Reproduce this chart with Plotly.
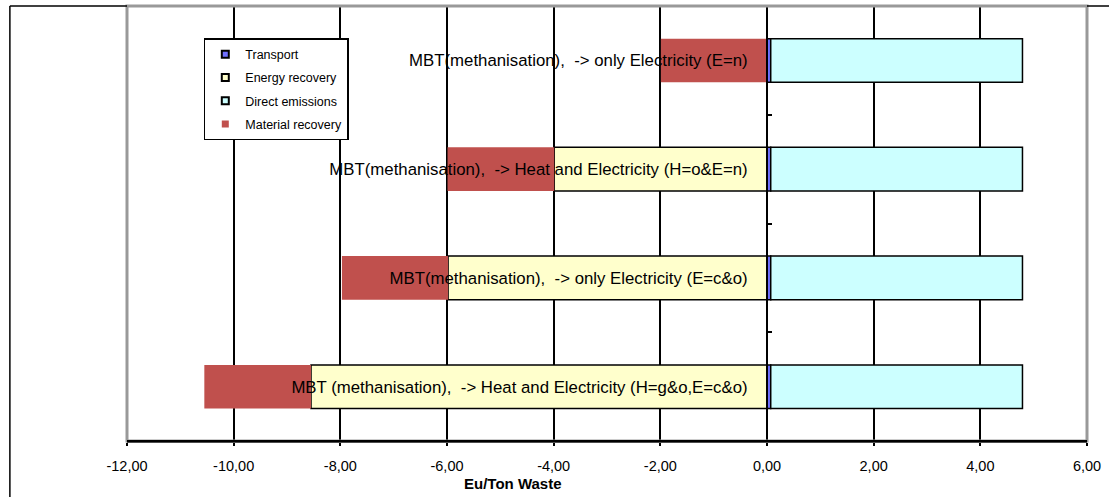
import plotly.graph_objects as go

categories = [
    "MBT (methanisation),  -> Heat and Electricity (H=g&o,E=c&o)",
    "MBT(methanisation),  -> only Electricity (E=c&o)",
    "MBT(methanisation),  -> Heat and Electricity (H=o&E=n)",
    "MBT(methanisation),  -> only Electricity (E=n)",
]
transport = [0.07, 0.07, 0.07, 0.07]
energy_recovery = [-8.55, -5.98, -3.99, 0.0]
direct_emissions = [4.72, 4.72, 4.72, 4.72]
material_recovery = [-2.0, -1.99, -2.0, -1.99]
x_ticks = [-12, -10, -8, -6, -4, -2, 0, 2, 4, 6]
x_tick_labels = ["-12,00", "-10,00", "-8,00", "-6,00", "-4,00", "-2,00", "0,00", "2,00", "4,00", "6,00"]

font_family = "Liberation Sans, Arial, sans-serif"

series = [
    ("Transport", transport, "#7070FF", 1.5),
    ("Energy recovery", energy_recovery, "#FFFFCC", 1.5),
    ("Direct emissions", direct_emissions, "#CCFFFF", 1.5),
    ("Material recovery", material_recovery, "#C0504D", 0),
]

fig = go.Figure()
for name, vals, color, lw in series:
    fig.add_trace(go.Bar(name=name, y=categories, x=vals, orientation="h",
                         legendgroup=name, showlegend=False,
                         marker=dict(color=color, line=dict(color="black", width=lw))))
# legend-only entries with small square symbols
for name, vals, color, lw in series:
    fig.add_trace(go.Scatter(name=name, x=[None], y=[None], mode="markers",
                             legendgroup=name, showlegend=True,
                             marker=dict(symbol="square", size=7, color=color,
                                         line=dict(color="black", width=2 if lw else 0))))

fig.update_layout(
    barmode="relative",
    bargap=0.6,
    width=1109, height=497,
    margin=dict(l=127, r=22, t=6, b=56),
    paper_bgcolor="white", plot_bgcolor="white",
    font=dict(family=font_family, color="black"),
    showlegend=True,
    legend=dict(x=0.08, y=0.926, xanchor="left", yanchor="top",
                bgcolor="white", bordercolor="black", borderwidth=1.5,
                font=dict(size=12.5, family=font_family), traceorder="grouped",
                tracegroupgap=4, itemwidth=30),
    xaxis=dict(range=[-12, 6], tickvals=x_ticks, ticktext=x_tick_labels,
               showgrid=True, gridcolor="black", gridwidth=1.5,
               zeroline=False, showline=True, linecolor="black", linewidth=2,
               ticks="outside", ticklen=3, tickcolor="black", tickwidth=2,
               tickfont=dict(size=14.5), ticklabelstandoff=8),
    yaxis=dict(anchor="free", position=2/3, showgrid=False, zeroline=False,
               showline=True, linecolor="black", linewidth=2,
               ticks="inside", tickson="boundaries", ticklen=4, tickcolor="black", tickwidth=2,
               tickfont=dict(size=16.8), ticklabelstandoff=15,
               layer="above traces"),
)

fig.add_annotation(text="<b>Eu/Ton Waste</b>", xref="paper", yref="paper",
                   x=0.402, y=-0.097, xanchor="center", yanchor="middle",
                   showarrow=False, font=dict(size=15, family=font_family))

# gray plot-area border
fig.add_shape(type="rect", xref="paper", yref="paper", x0=0, x1=1, y0=0, y1=1,
              line=dict(color="#999999", width=3), layer="above")
# bottom axis line black on top of the gray border
fig.add_shape(type="line", xref="paper", yref="paper", x0=0, x1=1, y0=0, y1=0,
              line=dict(color="black", width=2), layer="above")
# outer chart frame (partially visible)
fig.add_shape(type="line", xref="paper", yref="paper", x0=-0.122, x1=0.0, y0=1.0, y1=1.0,
              line=dict(color="black", width=1.5), layer="above")
fig.add_shape(type="line", xref="paper", yref="paper", x0=1.0, x1=1.1, y0=1.0, y1=1.0,
              line=dict(color="black", width=1.5), layer="above")
fig.add_shape(type="line", xref="paper", yref="paper", x0=-0.122, x1=-0.122, y0=1.0, y1=-0.2,
              line=dict(color="black", width=1.5), layer="above")

fig.write_html("out.html")
